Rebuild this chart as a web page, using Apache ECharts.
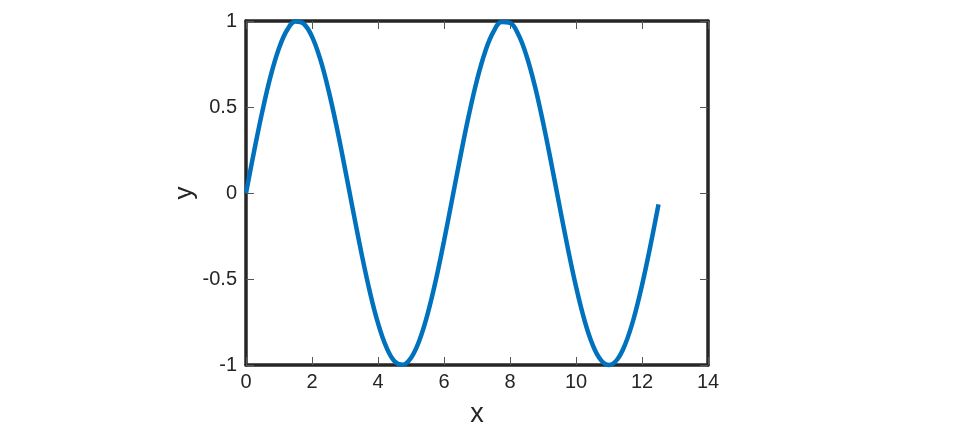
<!DOCTYPE html>
<html><head><meta charset="utf-8">
<script src="https://cdn.jsdelivr.net/npm/echarts@6/dist/echarts.min.js"></script>
<style>html,body{margin:0;padding:0;background:#fff}#c{width:964px;height:428px}</style>
</head><body><div id="c"></div>
<script>
const xValues = [0,0.25,0.5,0.75,1,1.25,1.5,1.75,2,2.25,2.5,2.75,3,3.25,3.5,3.75,4,4.25,4.5,4.75,5,5.25,5.5,5.75,6,6.25,6.5,6.75,7,7.25,7.5,7.75,8,8.25,8.5,8.75,9,9.25,9.5,9.75,10,10.25,10.5,10.75,11,11.25,11.5,11.75,12,12.25,12.5];
const yValues = [0,0.247,0.479,0.682,0.841,0.949,0.997,0.984,0.909,0.778,0.598,0.382,0.141,-0.108,-0.351,-0.572,-0.757,-0.895,-0.978,-0.999,-0.959,-0.859,-0.706,-0.509,-0.279,-0.033,0.215,0.450,0.657,0.823,0.938,0.994,0.989,0.923,0.798,0.625,0.412,0.174,-0.075,-0.319,-0.544,-0.735,-0.880,-0.970,-1.000,-0.968,-0.875,-0.729,-0.536,-0.311,-0.066];
const xTicks = [0,2,4,6,8,10,12,14];
const yTicks = [-1,-0.5,0,0.5,1];

const font = 'Liberation Sans, Arial, sans-serif';
const lineCol = '#262626';
const tickStyle = {show:true, inside:true, length:8, lineStyle:{color:'#555', width:1}};
const data = xValues.map((x,i)=>[x,yValues[i]]);
const chart = echarts.init(document.getElementById('c'));
chart.setOption({
  animation:false,
  grid:{left:246, top:21, right:256, bottom:63, containLabel:false, outerBoundsMode:'none'},
  xAxis:[{
    type:'value', min:xTicks[0], max:xTicks[xTicks.length-1], interval:2,
    name:'x', nameLocation:'middle', nameGap:36,
    nameTextStyle:{fontFamily:font, fontSize:27, color:lineCol},
    axisLine:{show:true, onZero:false, lineStyle:{color:lineCol, width:3.5}},
    axisTick:tickStyle, splitLine:{show:false},
    axisLabel:{fontFamily:font, fontSize:20, color:lineCol, margin:7}
  },{
    type:'value', position:'top', min:xTicks[0], max:xTicks[xTicks.length-1], interval:2,
    axisLine:{show:true, onZero:false, lineStyle:{color:lineCol, width:3.5}},
    axisTick:tickStyle, splitLine:{show:false}, axisLabel:{show:false}
  }],
  yAxis:[{
    type:'value', min:yTicks[0], max:yTicks[yTicks.length-1], interval:0.5,
    name:'y', nameLocation:'middle', nameGap:48, nameRotate:90,
    nameTextStyle:{fontFamily:font, fontSize:26, color:lineCol},
    axisLine:{show:true, onZero:false, lineStyle:{color:lineCol, width:3.5}},
    axisTick:tickStyle, splitLine:{show:false},
    axisLabel:{fontFamily:font, fontSize:20, color:lineCol, margin:9}
  },{
    type:'value', position:'right', min:yTicks[0], max:yTicks[yTicks.length-1], interval:0.5,
    axisLine:{show:true, onZero:false, lineStyle:{color:lineCol, width:3.5}},
    axisTick:tickStyle, splitLine:{show:false}, axisLabel:{show:false}
  }],
  series:[{
    type:'line', data:data, smooth:0.4, showSymbol:false, clip:false, z:10,
    lineStyle:{color:'#0072BD', width:4.5}
  }]
});
</script></body></html>
